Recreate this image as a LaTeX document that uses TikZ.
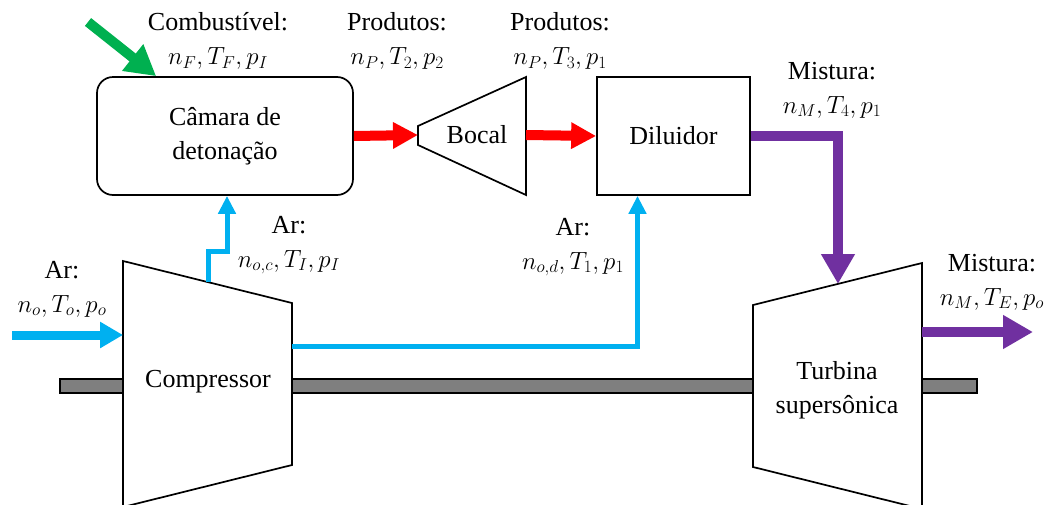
\documentclass[tikz,border=0pt]{standalone}
\usepackage{fontspec}
\setmainfont{Liberation Serif}
\newfontfamily\diagserif{Liberation Serif}
\usetikzlibrary{arrows.meta,calc}
\definecolor{airblue}{HTML}{00B0F0}
\definecolor{prodred}{HTML}{FF0000}
\definecolor{fuelgreen}{HTML}{00B050}
\definecolor{mixpurple}{HTML}{7030A0}
\definecolor{shaftgray}{HTML}{7F7F7F}
\begin{document}
\begin{tikzpicture}[x=1pt,y=-1pt,
  txt/.style={font=\diagserif\fontsize{26}{34}\selectfont, align=center, inner sep=0pt},
  unit/.style={draw=black, line width=1.7pt, fill=white, line join=miter},
  flow/.style={line join=miter},
  redflow/.style={flow, draw=prodred, line width=10pt, -{Triangle[length=25pt,width=25pt]}},
  mixflow/.style={flow, draw=mixpurple, line width=10pt, -{Triangle[length=30pt,width=32pt]}},
  fuelflow/.style={flow, draw=fuelgreen, line width=10pt, -{Triangle[length=30pt,width=32pt]}},
  airbig/.style={flow, draw=airblue, line width=9pt, -{Triangle[length=23pt,width=25pt]}},
  airthin/.style={flow, draw=airblue, line width=5pt, -{Triangle[length=18pt,width=17pt]}}]
\useasboundingbox (0,0) rectangle (1050,504);
\clip (0,0) rectangle (1050,504);
% shaft
\node[draw=black, line width=1.5pt, fill=shaftgray, minimum width=917pt, minimum height=14pt, inner sep=0pt] (shaft) at (518.5,386) {};
% compressor
\draw[unit] (123,261) -- (292,303) -- (292,465) -- (123,507) -- cycle;
\node[txt] (comp) at (208,382) {Compressor};
\coordinate (compin) at (123,335);
\coordinate (comptop) at (208,282);
\coordinate (compout) at (292,346);
% turbine
\draw[unit] (753,305) -- (922,263) -- (922,509) -- (753,467) -- cycle;
\node[txt] (turb) at (837,390) {Turbina\\supersônica};
\coordinate (turbin) at (838,284);
\coordinate (turbout) at (922,332);
% chamber
\node[unit, rounded corners=16pt, minimum width=256pt, minimum height=118pt, txt] (cham) at (225,136) {Câmara de\\detonação};
% nozzle
\draw[unit] (418,126) -- (526,77) -- (526,195) -- (418,145) -- cycle;
\node[txt] (boc) at (477,135) {Bocal};
\coordinate (bocin) at (418,135);
\coordinate (bocout) at (526,135);
% diluter
\node[unit, minimum width=153pt, minimum height=118pt, txt] (dil) at (673.5,136) {Diluidor};
% free ends
\coordinate (airsrc) at (12,335);
\coordinate (fuelsrc) at (88,22);
\coordinate (exhaust) at (1033,332);
% connectors
\draw[fuelflow] (fuelsrc) -- ([xshift=60pt]cham.north west);
\draw[redflow] (cham.east) -- (bocin);
\draw[redflow] (bocout) -- (dil.west);
\draw[mixflow] (dil.east) -| (turbin);
\draw[mixflow] (turbout) -- (exhaust);
\draw[airbig] (airsrc) -- (compin);
\draw[airthin] (comptop) -- ++(0,-31) -| ([xshift=2pt]cham.south);
\draw[airthin] (compout) -| ([xshift=-36pt]dil.south);
% labels
\node[txt] (lfuel) at (218,41) {Combustível:\\$n_F, T_F, p_I$};
\node[txt] (lprod1) at (397,41) {Produtos:\\$n_P, T_2, p_2$};
\node[txt] (lprod2) at (560,41) {Produtos:\\$n_P, T_3, p_1$};
\node[txt] (lmix1) at (832,90) {Mistura:\\$n_M, T_4, p_1$};
\node[txt] (lmix2) at (992,282) {Mistura:\\$n_M, T_E, p_o$};
\node[txt] (lair0) at (62,289) {Ar:\\$n_o, T_o, p_o$};
\node[txt] (laircomb) at (289,245) {Ar:\\$n_{o,c}, T_I, p_I$};
\node[txt] (lairdil) at (573,247) {Ar:\\$n_{o,d}, T_1, p_1$};
\end{tikzpicture}
\end{document}
